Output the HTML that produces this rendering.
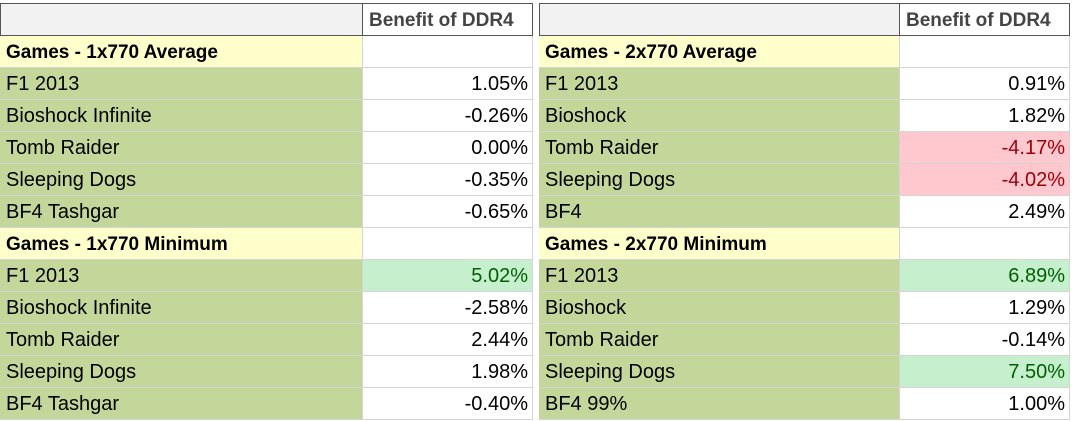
<!DOCTYPE html>
<html><head><meta charset="utf-8"><style>
body{margin:0;width:1080px;height:421px;background:#fff;position:relative;overflow:hidden;font-family:"Liberation Sans",sans-serif;}
.c{position:absolute;box-sizing:border-box;height:32px;line-height:33px;font-size:20px;color:#000;border-right:1px solid #d4d4d4;border-bottom:1px solid #d4d4d4;white-space:nowrap;overflow:hidden;padding:0 4px 0 6px;}
.r{text-align:right;padding-right:4px;}
.h{background:#f2f2f2;border:1px solid #555;}
.hb{font-weight:bold;color:#444;font-size:19px;border:1px solid #555;}
.y{background:#ffffcc;font-weight:bold;font-size:19px;}
.g{background:#c4d79b;}
.pk{background:#ffc7ce;color:#9c0006;}
.lg{background:#c6efce;color:#006100;}
</style></head><body>
<div id="t"></div>
<script>
var L=[["y","Games - 1x770 Average","",""],["g","F1 2013","1.05%",""],["g","Bioshock Infinite","-0.26%",""],["g","Tomb Raider","0.00%",""],["g","Sleeping Dogs","-0.35%",""],["g","BF4 Tashgar","-0.65%",""],["y","Games - 1x770 Minimum","",""],["g","F1 2013","5.02%","lg"],["g","Bioshock Infinite","-2.58%",""],["g","Tomb Raider","2.44%",""],["g","Sleeping Dogs","1.98%",""],["g","BF4 Tashgar","-0.40%",""]];
var R=[["y","Games - 2x770 Average","",""],["g","F1 2013","0.91%",""],["g","Bioshock","1.82%",""],["g","Tomb Raider","-4.17%","pk"],["g","Sleeping Dogs","-4.02%","pk"],["g","BF4","2.49%",""],["y","Games - 2x770 Minimum","",""],["g","F1 2013","6.89%","lg"],["g","Bioshock","1.29%",""],["g","Tomb Raider","-0.14%",""],["g","Sleeping Dogs","7.50%","lg"],["g","BF4 99%","1.00%",""]];
var h='';
function tab(x0,x1,x2,rows){
 h+='<div class="c h" style="left:'+x0+'px;top:3px;width:'+(x1-x0+1)+'px;height:33px"></div>';
 h+='<div class="c hb" style="left:'+x1+'px;top:3px;width:'+(x2-x1+1)+'px;height:33px">Benefit of DDR4</div>';
 rows.forEach(function(r,i){var y=36+32*i;
  h+='<div class="c '+r[0]+'" style="left:'+x0+'px;top:'+y+'px;width:'+(x1-x0+1)+'px">'+r[1]+'</div>';
  h+='<div class="c r '+r[3]+'" style="left:'+(x1+1)+'px;top:'+y+'px;width:'+(x2-x1)+'px">'+r[2]+'</div>';});
}
tab(0,362,532,L);tab(539,899,1069,R);
document.getElementById('t').innerHTML=h;
</script>
</body></html>
